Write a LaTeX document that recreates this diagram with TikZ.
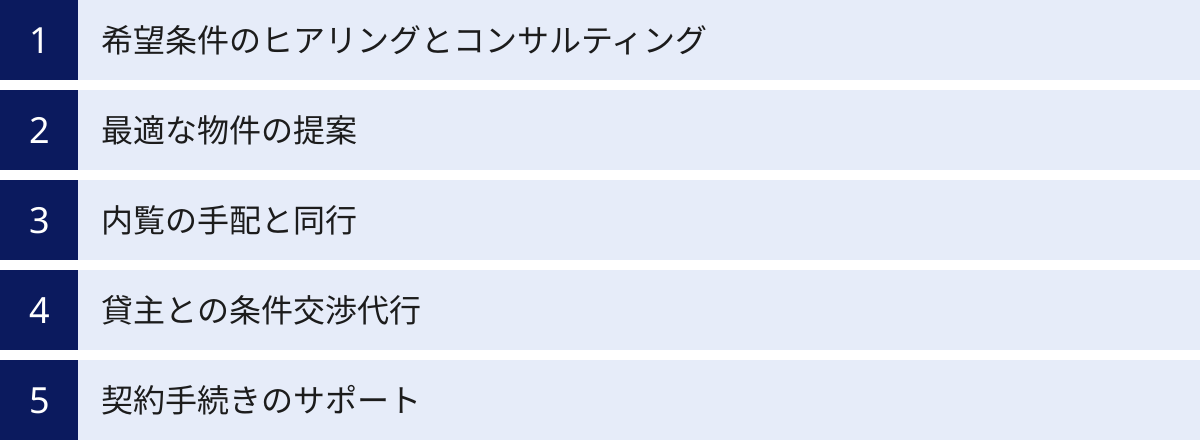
\documentclass[tikz,border=0pt]{standalone}
\usepackage{fontspec}
\setmainfont{Noto Sans CJK JP}
\newfontfamily\numfont{Noto Sans}
\usetikzlibrary{positioning}
\definecolor{navyblue}{HTML}{0B1A5E}
\definecolor{paleblue}{HTML}{E6ECF9}
\definecolor{inkgray}{HTML}{1C1C1C}
\tikzset{
  numbox/.style={fill=navyblue, text=white, inner sep=0pt, anchor=north west,
    minimum width=39pt, minimum height=40pt, font=\numfont\fontsize{18pt}{18pt}\selectfont},
  label/.style={text=inkgray, inner sep=0pt, anchor=west,
    font=\fontsize{16pt}{16pt}\selectfont}
}
\begin{document}
\begin{tikzpicture}[x=0.5pt, y=-0.5pt]
        \useasboundingbox (0,0) rectangle (1200,441);

        % Rows (schematic)
        \foreach \i/\txt in {1/希望条件のヒアリングとコンサルティング,2/最適な物件の提案,3/内覧の手配と同行,4/貸主との条件交渉代行,5/契約手続きのサポート} {
          \fill[paleblue] (0,{90*(\i-1)}) rectangle (1200,{90*(\i-1)+80});
          \node[numbox] (num\i) at (0,{90*(\i-1)}) {\i};
          \node[label] (item\i) at (101,{90*(\i-1)+40}) {\txt};
        }
    \end{tikzpicture}
\end{document}
